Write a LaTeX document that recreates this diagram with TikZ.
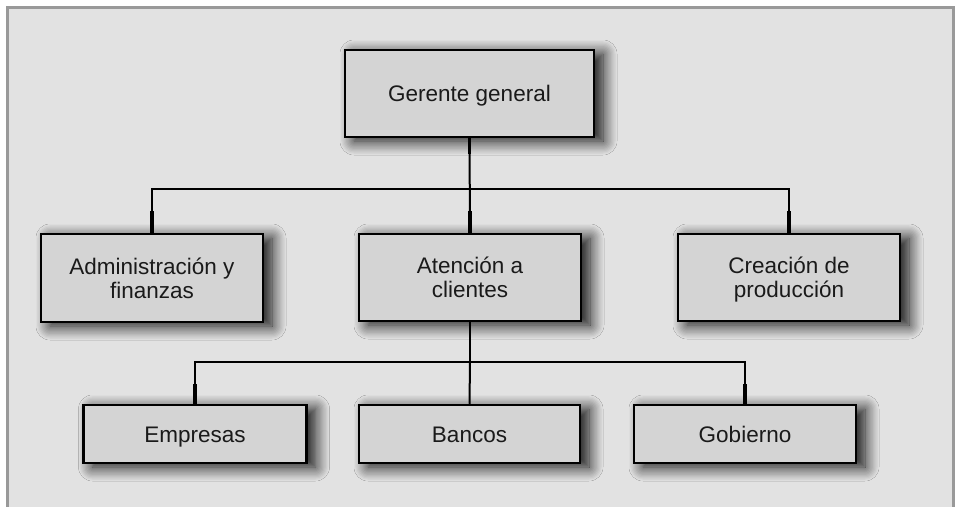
\documentclass[tikz,border=0pt]{standalone}
\usepackage{fontspec}
\setmainfont{Liberation Sans}
\usetikzlibrary{shadows.blur}
\definecolor{panelfill}{HTML}{E2E2E2}
\definecolor{panelline}{HTML}{999999}
\definecolor{boxfill}{HTML}{D4D4D4}
\definecolor{txt}{HTML}{1A1A1A}
\tikzset{
  orgbox/.style={draw=black, line width=2.5pt, fill=boxfill, inner sep=0pt,
    align=center, text=txt, font=\fontsize{22.5}{24}\selectfont, text depth=0pt,
    blur shadow={shadow xshift=9pt, shadow yshift=-4pt, shadow blur radius=14pt, shadow blur steps=12, shadow opacity=95}},
  oneline/.style={orgbox, text height=16pt},
  twoline/.style={orgbox, text height=40pt},
  link/.style={draw=black, line width=2pt},
  stub/.style={draw=black, line width=3.6pt}
}
\begin{document}
\begin{tikzpicture}[x=1pt,y=-1pt]
\useasboundingbox (0,0) rectangle (955,506);
\fill[white] (0,0) rectangle (955,506);
\fill[panelfill] (7.5,7) rectangle (953.5,520);
\draw[panelline, line width=3pt] (7.5,520) -- (7.5,7) -- (953.5,7) -- (953.5,520);

\node[oneline, minimum width=249pt, minimum height=87pt] (g) at (469.5,93.5) {Gerente general};
\node[twoline, minimum width=222pt, minimum height=88pt] (adm) at (152,278) {Administración y\\finanzas};
\node[twoline, minimum width=222pt, minimum height=87pt] (ate) at (470,277.5) {Atención a\\clientes};
\node[twoline, minimum width=222pt, minimum height=87pt] (cre) at (789,277.5) {Creación de\\producción};
\node[oneline, minimum width=223pt, minimum height=58pt] (emp) at (195,434) {Empresas};
\node[oneline, minimum width=221pt, minimum height=58pt] (ban) at (469.5,434) {Bancos};
\node[oneline, minimum width=222pt, minimum height=58pt] (gob) at (745,434) {Gobierno};

\coordinate (b1) at (470,189);
\coordinate (b2) at (470,362);

\draw[link] (g.south) -- (ate.north);
\draw[link] (adm.north) |- (b1) -| (cre.north);
\draw[link] (ate.south) -- (b2);
\draw[link] (emp.north) |- (b2) -| (gob.north);
\draw[link] (b2) -- (ban.north);

\draw[stub] (adm.north) -- ++(0,-22);
\draw[stub] (ate.north) -- ++(0,-22);
\draw[stub] (cre.north) -- ++(0,-22);
\draw[stub] (g.south) -- ++(0,16);
\draw[stub] (emp.north) -- ++(0,-20);
\draw[stub] (gob.north) -- ++(0,-20);
\end{tikzpicture}
\end{document}
